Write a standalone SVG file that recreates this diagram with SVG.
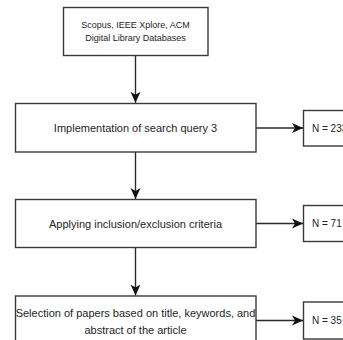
<svg xmlns="http://www.w3.org/2000/svg" width="343" height="340" viewBox="0 0 343 340">
<style>
.box{fill:#fff;stroke:#3a3a3a;stroke-width:1.4}
.t{font-family:"Liberation Sans",Arial,sans-serif;font-size:11px;fill:#1e1e1e;text-anchor:middle}
.ts{font-family:"Liberation Sans",Arial,sans-serif;font-size:9px;fill:#1e1e1e;text-anchor:middle}
.tn{font-family:"Liberation Sans",Arial,sans-serif;font-size:10px;fill:#1e1e1e}
.c{fill:none;stroke:#2a2a2a;stroke-width:1.4}
</style>
<defs>
<marker id="ah" markerUnits="userSpaceOnUse" markerWidth="12" markerHeight="11" refX="11" refY="5.5" orient="auto">
<path d="M0,0.5 L11,5.5 L0,10.5 L3,5.5 Z" fill="#111"/>
</marker>
</defs>
<rect width="343" height="340" fill="#fff"/>
<g id="connectors">
<path class="c" d="M135.5,56 V102.8" marker-end="url(#ah)"/>
<path class="c" d="M135.5,152 V199" marker-end="url(#ah)"/>
<path class="c" d="M135.5,248 V295.5" marker-end="url(#ah)"/>
<path class="c" d="M256,128 H303" marker-end="url(#ah)"/>
<path class="c" d="M256,223.5 H303" marker-end="url(#ah)"/>
<path class="c" d="M256,320.5 H303" marker-end="url(#ah)"/>
</g>
<g id="source">
<rect class="box" x="63.5" y="7.5" width="144.5" height="48"/>
<text class="ts" x="135.5" y="28">Scopus, IEEE Xplore, ACM</text>
<text class="ts" x="135.5" y="41">Digital Library Databases</text>
</g>
<g id="search">
<rect class="box" x="15.5" y="103.5" width="240.5" height="48.5"/>
<text class="t" x="135.5" y="131.5">Implementation of search query 3</text>
</g>
<g id="n233">
<rect class="box" x="303.5" y="110.5" width="60" height="35.5"/>
<text class="tn" x="312" y="131.5">N = 233</text>
</g>
<g id="criteria">
<rect class="box" x="15.5" y="199.5" width="240.5" height="48"/>
<text class="t" x="135.5" y="227.5">Applying inclusion/exclusion criteria</text>
</g>
<g id="n71">
<rect class="box" x="303.5" y="205.5" width="60" height="36"/>
<text class="tn" x="312" y="227">N = 71</text>
</g>
<g id="selection">
<rect class="box" x="15.5" y="296" width="240.5" height="50"/>
<text class="t" x="135.5" y="317">Selection of papers based on title, keywords, and</text>
<text class="t" x="135.5" y="333.5">abstract of the article</text>
</g>
<g id="n35">
<rect class="box" x="303.5" y="302" width="60" height="37"/>
<text class="tn" x="312" y="324">N = 35</text>
</g>
</svg>
